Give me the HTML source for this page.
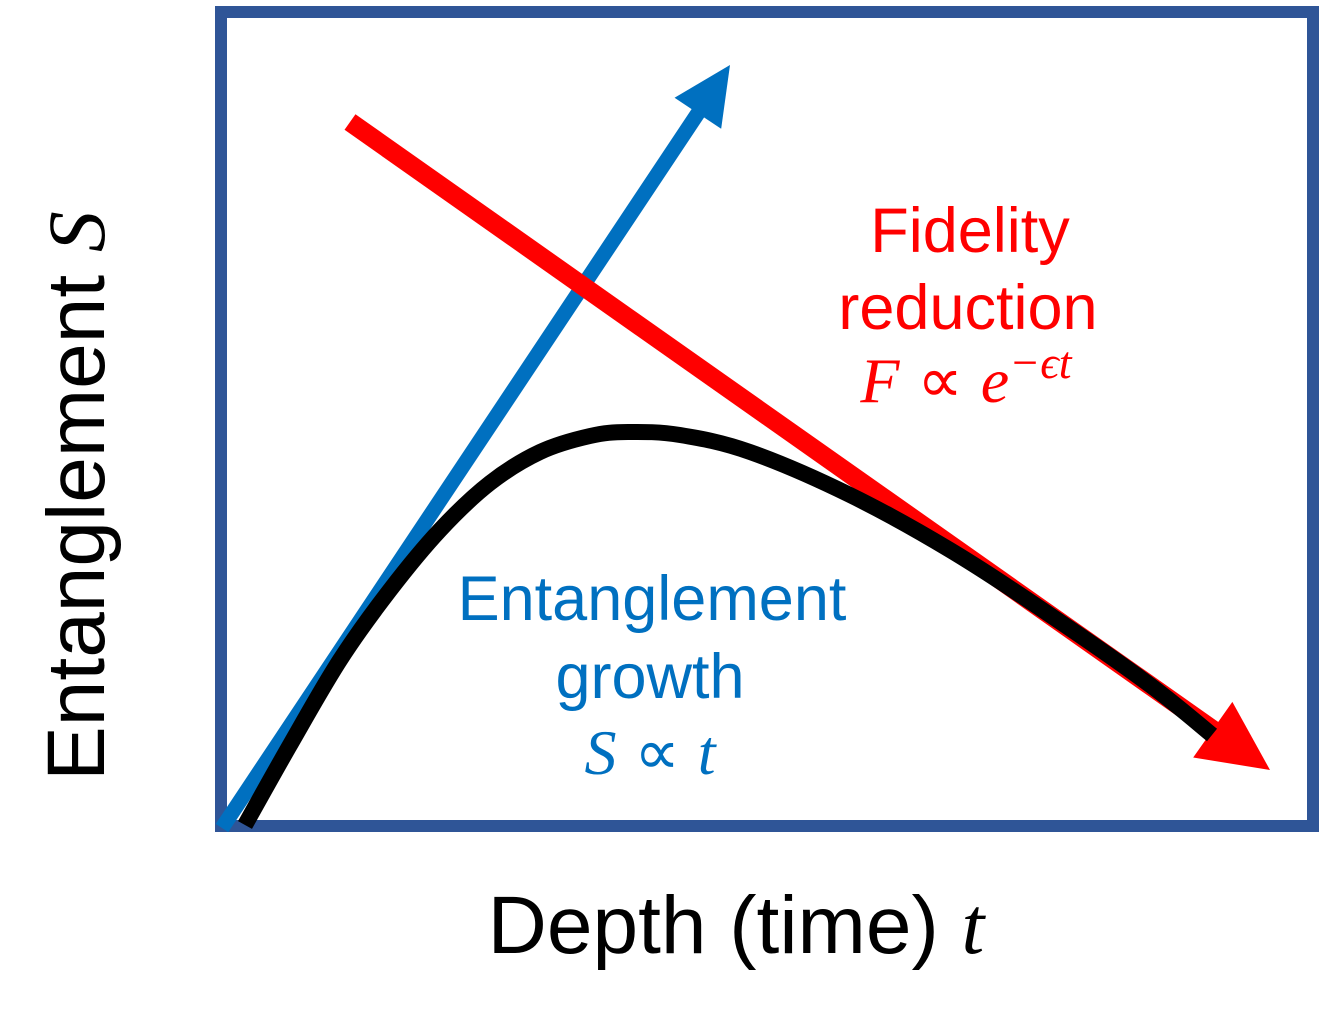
<!DOCTYPE html>
<html><head><meta charset="utf-8"><style>
html,body{margin:0;padding:0;background:#fff;}
svg{display:block;}
text{font-family:"Liberation Sans",sans-serif;}
.m{font-family:"Liberation Serif","DejaVu Serif",serif;font-style:italic;}
</style></head><body>
<svg id="chart" width="1335" height="1022" viewBox="0 0 1335 1022">
  <rect x="221" y="12" width="1092" height="814" fill="none" stroke="#2F5597" stroke-width="12"/>
  <g id="marks"></g>
  <text x="970" y="252" font-size="63" fill="#FF0000" text-anchor="middle">Fidelity</text>
  <text x="968" y="329" font-size="63" fill="#FF0000" text-anchor="middle">reduction</text>
  <text x="966" y="402" font-size="64" fill="#FF0000" text-anchor="middle"><tspan class="m">F</tspan> ∝ <tspan class="m">e</tspan><tspan class="m" font-size="46" dy="-24">−ϵt</tspan></text>
  <text x="652" y="620" font-size="63" fill="#0070C0" text-anchor="middle">Entanglement</text>
  <text x="650" y="698" font-size="63" fill="#0070C0" text-anchor="middle">growth</text>
  <text x="650" y="774" font-size="64" fill="#0070C0" text-anchor="middle"><tspan class="m">S</tspan> ∝ <tspan class="m">t</tspan></text>
  <text transform="translate(104,496) rotate(-90)" font-size="82" fill="#000" text-anchor="middle">Entanglement <tspan class="m">S</tspan></text>
  <text x="736" y="953" font-size="82" fill="#000" text-anchor="middle">Depth (time) <tspan class="m">t</tspan></text>
</svg>
<script>
// black curve points (pixel-space, as drawn)
const curveX = [245,290,340,390,440,490,540,590,628,680,750,850,950,1050,1150,1212];
const curveY = [825,745,660,590,530,483,452,436,432,435,452,495,550,615,685,735];
const blueLine = [[222,828],[712,95]];
const redLine = [[350,122],[1225,738]];
const NS = "http://www.w3.org/2000/svg";
const g = document.getElementById('marks');
function arrow(p, color, w, tip, hl, hw, name){
  const [a,b]=p; const dx=tip[0]-a[0], dy=tip[1]-a[1]; const L=Math.hypot(dx,dy);
  const ux=dx/L, uy=dy/L, nx=-uy, ny=ux;
  const bx=tip[0]-ux*hl, by=tip[1]-uy*hl;
  const ln=document.createElementNS(NS,'line');
  ln.setAttribute('x1',a[0]);ln.setAttribute('y1',a[1]);ln.setAttribute('x2',bx+ux*4);ln.setAttribute('y2',by+uy*4);
  ln.setAttribute('stroke',color);ln.setAttribute('stroke-width',w);
  
  
  g.appendChild(ln);
  const pg=document.createElementNS(NS,'polygon');
  pg.setAttribute('points',`${tip[0]},${tip[1]} ${bx+nx*hw},${by+ny*hw} ${bx-nx*hw},${by-ny*hw}`);
  pg.setAttribute('fill',color);
  
  
  g.appendChild(pg);
}
arrow(blueLine,'#0070C0',15,[730,65],58,28,'entanglement-growth-arrow');
arrow(redLine,'#FF0000',19,[1270,770],70,34,'fidelity-reduction-arrow');
let d=`M${curveX[0]},${curveY[0]}`;
for(let i=0;i<curveX.length-1;i++){
  const p0=[curveX[Math.max(i-1,0)],curveY[Math.max(i-1,0)]],p1=[curveX[i],curveY[i]],p2=[curveX[i+1],curveY[i+1]],p3=[curveX[Math.min(i+2,curveX.length-1)],curveY[Math.min(i+2,curveX.length-1)]];
  const c1=[p1[0]+(p2[0]-p0[0])/6,p1[1]+(p2[1]-p0[1])/6],c2=[p2[0]-(p3[0]-p1[0])/6,p2[1]-(p3[1]-p1[1])/6];
  d+=` C${c1[0]},${c1[1]} ${c2[0]},${c2[1]} ${p2[0]},${p2[1]}`;
}
const path=document.createElementNS(NS,'path');
path.setAttribute('d',d);path.setAttribute('fill','none');path.setAttribute('stroke','#000');path.setAttribute('stroke-width',16);


g.appendChild(path);
</script>
</body></html>
